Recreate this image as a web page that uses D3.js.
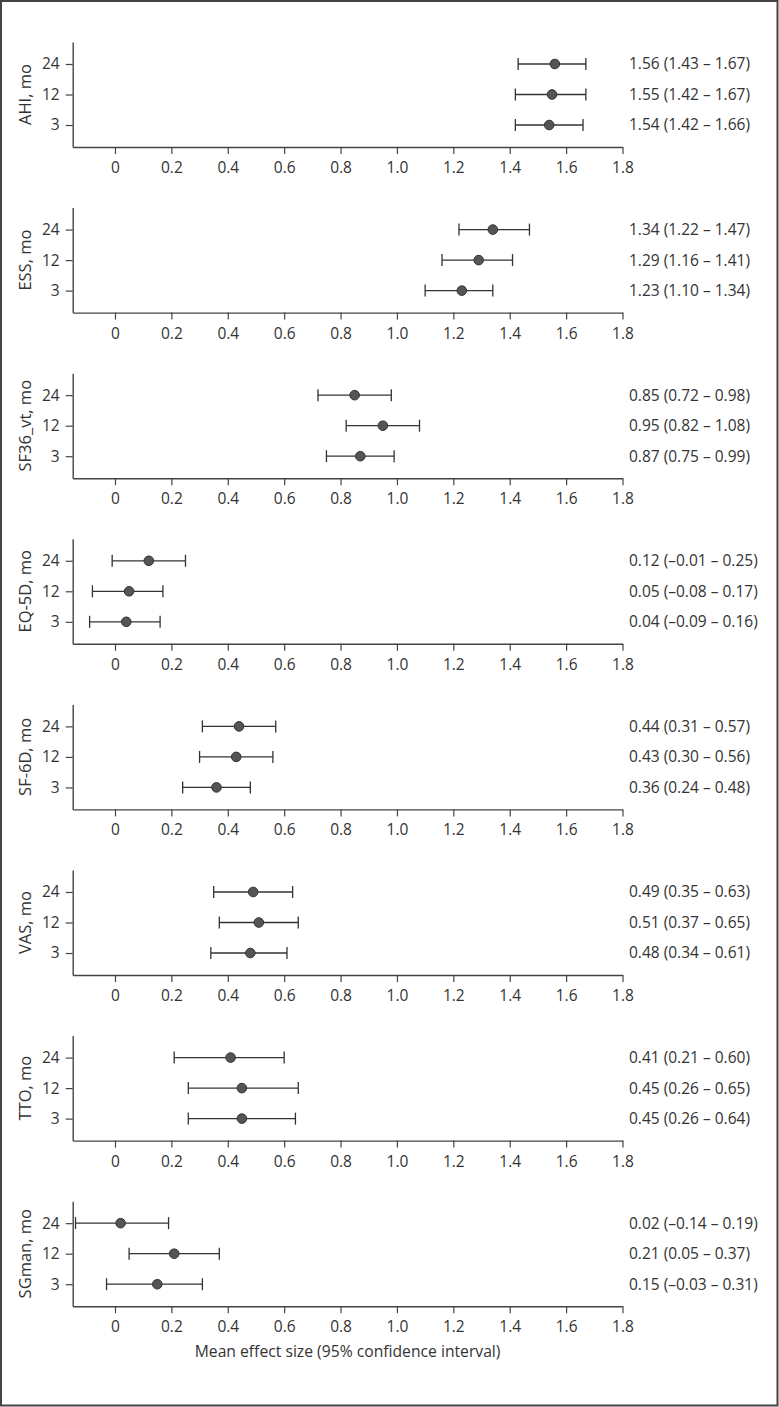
<!DOCTYPE html>
<html>
<head>
<meta charset="utf-8">
<script src="https://cdn.jsdelivr.net/npm/d3@7"></script>
<style>
html,body{margin:0;padding:0;background:#fff;}
svg{display:block;font-family:"Open Sans","Noto Sans",sans-serif;}
</style>
</head>
<body>
<svg id="chart" width="779" height="1407"></svg>
<script>
// ---- data ----
const panels = ["AHI, mo","ESS, mo","SF36_vt, mo","EQ-5D, mo","SF-6D, mo","VAS, mo","TTO, mo","SGman, mo"];
const months = ["24","12","3"];
// per panel: values for 24, 12, 3 months
const means = [
  [1.56,1.55,1.54],
  [1.34,1.29,1.23],
  [0.85,0.95,0.87],
  [0.12,0.05,0.04],
  [0.44,0.43,0.36],
  [0.49,0.51,0.48],
  [0.41,0.45,0.45],
  [0.02,0.21,0.15]
];
const lower = [
  [1.43,1.42,1.42],
  [1.22,1.16,1.10],
  [0.72,0.82,0.75],
  [-0.01,-0.08,-0.09],
  [0.31,0.30,0.24],
  [0.35,0.37,0.34],
  [0.21,0.26,0.26],
  [-0.14,0.05,-0.03]
];
const upper = [
  [1.67,1.67,1.66],
  [1.47,1.41,1.34],
  [0.98,1.08,0.99],
  [0.25,0.17,0.16],
  [0.57,0.56,0.48],
  [0.63,0.65,0.61],
  [0.60,0.65,0.64],
  [0.19,0.37,0.31]
];
const xTickValues = [0,0.2,0.4,0.6,0.8,1.0,1.2,1.4,1.6,1.8];
const xTickLabels = ["0","0.2","0.4","0.6","0.8","1.0","1.2","1.4","1.6","1.8"];
const xTitle = "Mean effect size (95% confidence interval)";

// ---- layout ----
const svg = d3.select("#chart");
const W = 779, H = 1407;
const axisLeftX = 72.7, axisRightX = 622.5;
const panelTop0 = 42, panelH = 105, panelStep = 165.6;
const ink = "#333", axisCol = "#444";
const fontFam = '"Open Sans","Noto Sans",sans-serif';

svg.append("rect").attr("x",1).attr("y",1).attr("width",W-2.5).attr("height",H-2.5)
  .attr("fill","none").attr("stroke","#444").attr("stroke-width",2);

const x = d3.scaleLinear().domain([-0.15,1.8]).range([axisLeftX,axisRightX]);
const fmt = v => {
  const s = Math.abs(v).toFixed(2);
  return (v < 0 ? "\u2013" : "") + s;
};

panels.forEach((name,i)=>{
  const top = panelTop0 + i*panelStep;
  const g = svg.append("g").attr("transform",`translate(0,${top})`);
  const y = d3.scalePoint().domain(months).range([0,panelH]).padding(0.72);

  // x axis
  const xa = g.append("g").attr("transform",`translate(0,${panelH})`)
    .call(d3.axisBottom(x).tickValues(xTickValues)
      .tickFormat((d,k)=>xTickLabels[k]).tickSize(7).tickSizeOuter(0).tickPadding(8));
  // y axis
  const ya = g.append("g").attr("transform",`translate(${axisLeftX},0)`)
    .call(d3.axisLeft(y).tickSize(7).tickSizeOuter(0).tickPadding(6));
  [xa,ya].forEach(a=>{
    a.select(".domain").attr("stroke",axisCol).attr("stroke-width",1.4);
    a.selectAll(".tick line").attr("stroke",axisCol).attr("stroke-width",1.2);
    a.selectAll(".tick text").attr("fill",ink).attr("font-size",15.5)
      .attr("font-family",fontFam);
  });

  // y label
  g.append("text")
    .attr("transform",`translate(25,${panelH/2}) rotate(-90)`)
    .attr("text-anchor","middle").attr("dy","0.35em")
    .attr("fill",ink).attr("font-size",16.5).text(name);

  const rows = months.map((m,k)=>({m, mean:means[i][k], lo:lower[i][k], hi:upper[i][k]}));
  const r = g.selectAll("g.row").data(rows).join("g").attr("class","row")
    .attr("transform",d=>`translate(0,${y(d.m)})`);
  r.append("line").attr("x1",d=>x(d.lo)).attr("x2",d=>x(d.hi))
    .attr("stroke",ink).attr("stroke-width",1.3);
  r.append("line").attr("x1",d=>x(d.lo)).attr("x2",d=>x(d.lo)).attr("y1",-6).attr("y2",6)
    .attr("stroke",ink).attr("stroke-width",1.3);
  r.append("line").attr("x1",d=>x(d.hi)).attr("x2",d=>x(d.hi)).attr("y1",-6).attr("y2",6)
    .attr("stroke",ink).attr("stroke-width",1.3);
  r.append("circle").attr("cx",d=>x(d.mean)).attr("r",4.8)
    .attr("fill","#555").attr("stroke","#333").attr("stroke-width",1);
  r.append("text").attr("x",629).attr("dy","0.35em")
    .attr("fill",ink).attr("font-size",15.5)
    .text(d=>`${fmt(d.mean)} (${fmt(d.lo)} \u2013 ${fmt(d.hi)})`);
});

svg.append("text").attr("x",(axisLeftX+axisRightX)/2).attr("y",1357)
  .attr("text-anchor","middle").attr("fill",ink).attr("font-size",15.7).text(xTitle);
</script>
</body>
</html>
